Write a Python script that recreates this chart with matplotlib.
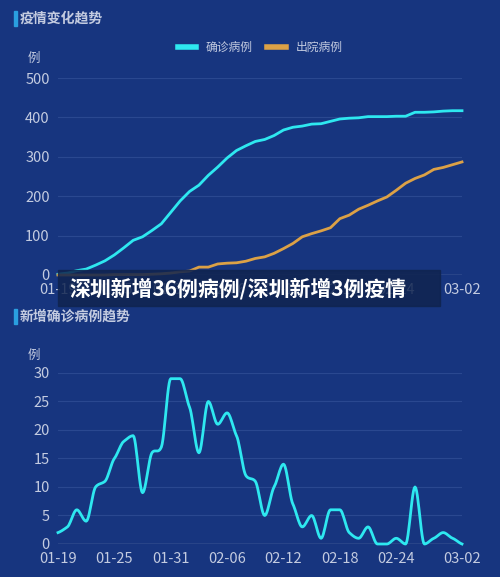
import matplotlib
matplotlib.use("Agg")
import matplotlib.pyplot as plt
import numpy as np

plt.rcParams['font.family'] = ['Noto Sans CJK SC', 'DejaVu Sans']

# 2020-01-19 .. 2020-03-02
dates = ([f"01-{d:02d}" for d in range(19, 32)]
         + [f"02-{d:02d}" for d in range(1, 30)]
         + ["03-01", "03-02"])
daily_new = [2, 3, 6, 4, 10, 11, 15, 18, 19, 9, 16, 17, 29, 29, 24, 16, 25, 21,
             23, 19, 12, 11, 5, 10, 14, 7, 3, 5, 1, 6, 6, 2, 1, 3, 0, 0, 1, 0,
             10, 0, 1, 2, 1, 0]
confirmed = np.cumsum(daily_new)
discharged = [0, 0, 0, 0, 0, 0, 1, 1, 1, 1, 2, 3, 5, 8, 10, 20, 20, 28, 30, 31,
              35, 42, 46, 55, 67, 80, 97, 105, 112, 120, 143, 152, 167, 177,
              188, 198, 215, 233, 245, 254, 268, 273, 280, 287]
tick_idx = [0, 6, 12, 18, 24, 30, 36, 43]

BG = "#17357f"
GRID = "#2a4890"
TXT = "#c3cbe0"
CYAN = "#2ee8f0"
ORANGE = "#dca146"


def smooth(x, y, n=12):
    # cubic hermite with clamped tangents (flat at local extrema)
    x = np.asarray(x, float)
    y = np.asarray(y, float)
    m = np.gradient(y, x) * 0.6
    for i in range(1, len(y) - 1):
        if (y[i] - y[i - 1]) * (y[i + 1] - y[i]) <= 0:
            m[i] = 0
    xs, ys = [], []
    for i in range(len(x) - 1):
        t = np.linspace(0, 1, n, endpoint=False)
        h = x[i + 1] - x[i]
        h00 = 2 * t**3 - 3 * t**2 + 1
        h10 = t**3 - 2 * t**2 + t
        h01 = -2 * t**3 + 3 * t**2
        h11 = t**3 - t**2
        xs.append(x[i] + t * h)
        ys.append(h00 * y[i] + h10 * h * m[i] + h01 * y[i + 1] + h11 * h * m[i + 1])
    xs.append([x[-1]])
    ys.append([y[-1]])
    return np.concatenate(xs), np.concatenate(ys)


fig = plt.figure(figsize=(5, 5.77), dpi=100, facecolor=BG)
x = np.arange(len(dates))


def style(ax, ylim, yticks):
    ax.set_facecolor(BG)
    ax.set_xlim(0, len(dates) - 1)
    ax.set_ylim(*ylim)
    ax.set_yticks(yticks)
    ax.set_xticks(tick_idx)
    ax.set_xticklabels([dates[i] for i in tick_idx])
    ax.tick_params(colors=TXT, labelsize=10.5, length=0, pad=6)
    for s in ax.spines.values():
        s.set_visible(False)
    ax.grid(axis="y", color=GRID, lw=0.8)
    ax.axhline(0, color="#6a7fb0", lw=1)
    ax.set_axisbelow(True)


ax1 = fig.add_axes([0.116, 0.5234, 0.808, 0.3414])
style(ax1, (0, 500), range(0, 501, 100))
ax1.plot(x, confirmed, color=CYAN, lw=2, label="确诊病例", clip_on=False)
ax1.plot(x, discharged, color=ORANGE, lw=2, label="出院病例", clip_on=False)
ax1.legend(loc="lower center", bbox_to_anchor=(0.5, 1.07), ncol=2, frameon=False,
           fontsize=8.5, labelcolor=TXT, handlelength=1.6, handleheight=0.3,
           columnspacing=1.2)
for line in ax1.get_legend().get_lines():
    line.set_linewidth(4)
ax1.text(-0.045, 1.1, "例", transform=ax1.transAxes, color=TXT, fontsize=9,
         ha="right", va="center")

ax2 = fig.add_axes([0.116, 0.0572, 0.808, 0.2964])
style(ax2, (0, 30), range(0, 31, 5))
sx, sy = smooth(x, daily_new)
ax2.plot(sx, sy, color=CYAN, lw=2, clip_on=False)
ax2.text(-0.045, 1.1, "例", transform=ax2.transAxes, color=TXT, fontsize=9,
         ha="right", va="center")

# section titles
for yy, title in [(0.968, "疫情变化趋势"), (0.452, "新增确诊病例趋势")]:
    fig.patches.append(plt.Rectangle((0.028, yy - 0.013), 0.005, 0.026,
                                     transform=fig.transFigure, color="#2a9fe0"))
    fig.text(0.04, yy, title, color=TXT, fontsize=10, va="center", weight="bold")

# overlay caption band
fig.patches.append(plt.Rectangle((0.116, 1 - 306 / 577), 0.764, 36 / 577,
                                 transform=fig.transFigure, color="#10244f",
                                 alpha=0.85, zorder=10))
fig.text(0.138, 1 - 289 / 577, "深圳新增36例病例/深圳新增3例疫情", color="white",
         fontsize=15, weight="bold", va="center", zorder=11)

fig.savefig("out.png", dpi=100, facecolor=BG)
